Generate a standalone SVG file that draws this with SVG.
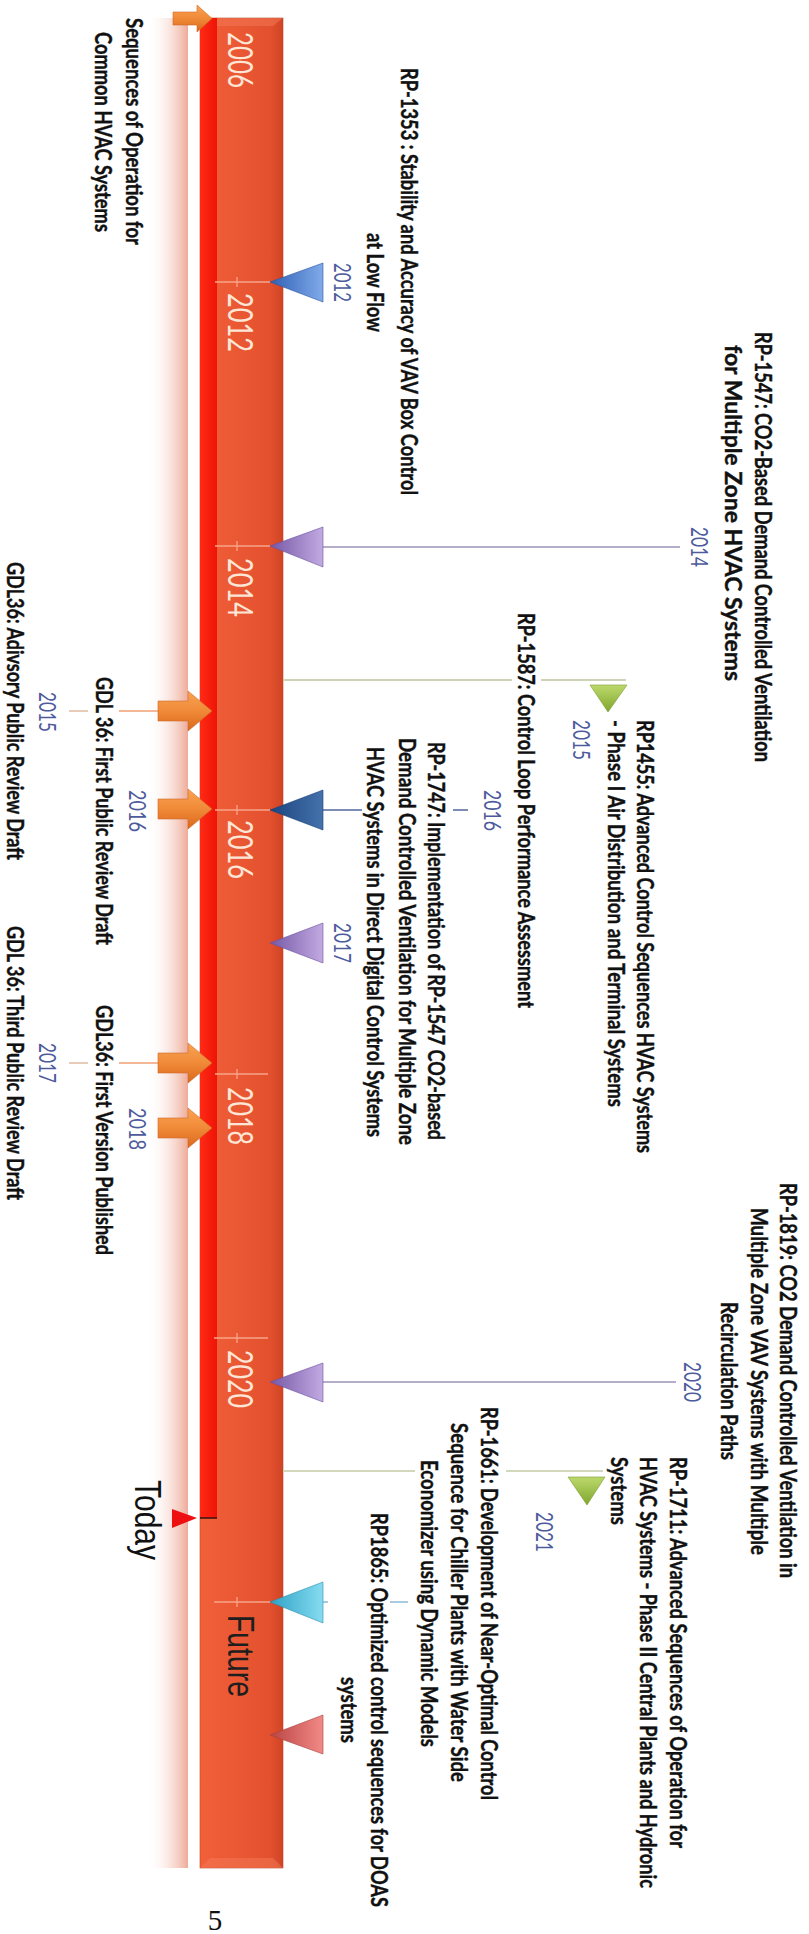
<svg xmlns="http://www.w3.org/2000/svg" width="809" height="1934" viewBox="0 0 809 1934">
<defs>
<style>
.lb{font-family:Lato,"Liberation Sans",sans-serif;font-weight:700;font-size:16px;fill:#111;stroke:#111;stroke-width:0.3}
.yr{font-family:Lato,"Liberation Sans",sans-serif;font-size:25px;fill:#fde6d6}
.sy{font-family:Lato,"Liberation Sans",sans-serif;font-size:16px;fill:#4d5a9c}
.big{font-family:"Liberation Sans",Arial,sans-serif;font-size:27px}
.tick{stroke:#f7a58a;stroke-width:1.3;fill:none}
.c{fill:none;stroke-width:2}
</style>
<linearGradient id="gBar" x1="0" y1="0" x2="1" y2="0">
<stop offset="0" stop-color="#f2603a"/><stop offset="0.85" stop-color="#e2502e"/><stop offset="1" stop-color="#cf4425"/>
</linearGradient>
<linearGradient id="gRed" x1="0" y1="0" x2="1" y2="0">
<stop offset="0" stop-color="#ff2a15"/><stop offset="1" stop-color="#ee1408"/>
</linearGradient>
<linearGradient id="gPink" x1="0" y1="0" x2="1" y2="0">
<stop offset="0" stop-color="#ffffff" stop-opacity="0"/><stop offset="1" stop-color="#eeab98"/>
</linearGradient>
<linearGradient id="gArr" x1="0" y1="0" x2="0" y2="1">
<stop offset="0" stop-color="#f9a452"/><stop offset="0.5" stop-color="#f08a38"/><stop offset="1" stop-color="#d9681c"/>
</linearGradient>
<linearGradient id="gBlue" x1="0" y1="0" x2="1" y2="0"><stop offset="0" stop-color="#2f60b4"/><stop offset="1" stop-color="#80aaea"/></linearGradient>
<linearGradient id="gPur" x1="0" y1="0" x2="1" y2="0"><stop offset="0" stop-color="#7658a6"/><stop offset="1" stop-color="#c2aae2"/></linearGradient>
<linearGradient id="gDb" x1="0" y1="0" x2="1" y2="0"><stop offset="0" stop-color="#1b4580"/><stop offset="1" stop-color="#4572ac"/></linearGradient>
<linearGradient id="gCy" x1="0" y1="0" x2="1" y2="0"><stop offset="0" stop-color="#2fa2c6"/><stop offset="1" stop-color="#86dcf0"/></linearGradient>
<linearGradient id="gSal" x1="0" y1="0" x2="1" y2="0"><stop offset="0" stop-color="#b94444"/><stop offset="1" stop-color="#f28a86"/></linearGradient>
<linearGradient id="gGr" x1="0" y1="0" x2="0" y2="1"><stop offset="0" stop-color="#bcd96c"/><stop offset="1" stop-color="#7fa62c"/></linearGradient>
</defs>
<rect width="809" height="1934" fill="#ffffff"/>

<g id="timeline">
<rect x="147" y="18" width="41" height="1850" fill="url(#gPink)"/>
<rect x="200" y="18" width="83" height="1850" fill="url(#gBar)" stroke="#b8482c" stroke-width="0.6"/>
<polygon points="200,18 283,18 273,26 210,26" fill="#f47a58" opacity="0.5"/>
<polygon points="200,1868 283,1868 273,1858 210,1858" fill="#f47a58" opacity="0.5"/>
<rect x="200" y="18" width="17" height="1500" fill="url(#gRed)"/>
<line x1="200" y1="1518" x2="217" y2="1518" stroke="#3a1010" stroke-width="1.5"/>
<g class="tick">
<line x1="215" y1="282" x2="270" y2="282"/><line x1="237" y1="277" x2="237" y2="287"/>
<line x1="215" y1="546" x2="270" y2="546"/><line x1="237" y1="541" x2="237" y2="551"/>
<line x1="215" y1="810" x2="270" y2="810"/><line x1="237" y1="805" x2="237" y2="815"/>
<line x1="215" y1="1074" x2="268" y2="1074"/><line x1="237" y1="1069" x2="237" y2="1079"/>
<line x1="214" y1="1338" x2="268" y2="1338"/><line x1="237" y1="1333" x2="237" y2="1343"/>
<line x1="214" y1="1602" x2="270" y2="1602"/><line x1="237" y1="1597" x2="237" y2="1607"/>
</g>
<text class="yr" transform="translate(228,32) rotate(90) scale(1,1.4)" textLength="56" lengthAdjust="spacingAndGlyphs">2006</text>
<text class="yr" transform="translate(228,293) rotate(90) scale(1,1.4)" textLength="59" lengthAdjust="spacingAndGlyphs">2012</text>
<text class="yr" transform="translate(228,558) rotate(90) scale(1,1.4)" textLength="59" lengthAdjust="spacingAndGlyphs">2014</text>
<text class="yr" transform="translate(228,820) rotate(90) scale(1,1.4)" textLength="59" lengthAdjust="spacingAndGlyphs">2016</text>
<text class="yr" transform="translate(228,1087) rotate(90) scale(1,1.4)" textLength="58" lengthAdjust="spacingAndGlyphs">2018</text>
<text class="yr" transform="translate(228,1350) rotate(90) scale(1,1.4)" textLength="58" lengthAdjust="spacingAndGlyphs">2020</text>
<text class="big" fill="#1e1e1e" transform="translate(228,1615) rotate(90) scale(1,1.4)" textLength="82" lengthAdjust="spacingAndGlyphs">Future</text>
</g>

<g id="today">
<polygon points="172,1509 197,1518 172,1528" fill="#ee1010"/>
<text class="big" fill="#111" transform="translate(135,1480) rotate(90) scale(1,1.4)" textLength="80" lengthAdjust="spacingAndGlyphs">Today</text>
</g>

<g id="connectors" class="c">
<line x1="323" y1="547" x2="680" y2="547" stroke="#b5aecb"/>
<line x1="283" y1="680" x2="512" y2="680" stroke="#cbd5b6"/>
<line x1="541" y1="680" x2="626" y2="680" stroke="#cbd5b6"/>
<line x1="323" y1="810" x2="362" y2="810" stroke="#7d8cb5"/>
<line x1="453" y1="810" x2="468" y2="810" stroke="#7d8cb5"/>
<line x1="323" y1="1382" x2="676" y2="1382" stroke="#b5aecb"/>
<line x1="283" y1="1471" x2="415" y2="1471" stroke="#d2d8bc"/>
<line x1="506" y1="1471" x2="603" y2="1471" stroke="#d2d8bc"/>
<line x1="323" y1="1602" x2="328" y2="1602" stroke="#a8cbe0"/>
<line x1="390" y1="1602" x2="408" y2="1602" stroke="#a8cbe0"/>
<line x1="119" y1="711" x2="158" y2="711" stroke="#f5b896"/>
<line x1="69" y1="711" x2="88" y2="711" stroke="#e8cbb8"/>
<line x1="119" y1="1063" x2="158" y2="1063" stroke="#f5b896"/>
<line x1="69" y1="1063" x2="88" y2="1063" stroke="#e8cbb8"/>
</g>

<g id="n2006">
<polygon points="173,12 197,12 197,5 212,18.5 197,32 197,25 173,25" fill="url(#gArr)" stroke="#d06a28" stroke-width="0.6"/>
<text class="lb" transform="translate(126,18) rotate(90) scale(1,1.4)" textLength="227" lengthAdjust="spacingAndGlyphs">Sequences of Operation for</text>
<text class="lb" transform="translate(95,32) rotate(90) scale(1,1.4)" textLength="200" lengthAdjust="spacingAndGlyphs">Common HVAC Systems</text>
</g>

<g id="n2012">
<polygon points="270,282 323,263 323,302" fill="url(#gBlue)" stroke="#2a55a0" stroke-width="0.6"/>
<text class="sy" transform="translate(334,263) rotate(90) scale(1,1.4)" textLength="39" lengthAdjust="spacingAndGlyphs">2012</text>
<text class="lb" transform="translate(401,68) rotate(90) scale(1,1.4)" textLength="427" lengthAdjust="spacingAndGlyphs">RP-1353 : Stability and Accuracy of VAV Box Control</text>
<text class="lb" transform="translate(367,233) rotate(90) scale(1,1.4)" textLength="99" lengthAdjust="spacingAndGlyphs">at Low Flow</text>
</g>

<g id="n2014">
<polygon points="270,546 323,527 323,567" fill="url(#gPur)" stroke="#6a50a0" stroke-width="0.6"/>
<text class="sy" transform="translate(691,527) rotate(90) scale(1,1.4)" textLength="40" lengthAdjust="spacingAndGlyphs">2014</text>
<text class="lb" transform="translate(755,332) rotate(90) scale(1,1.4)" textLength="430" lengthAdjust="spacingAndGlyphs">RP-1547: CO2-Based Demand Controlled Ventilation</text>
<text class="lb" transform="translate(725,345) rotate(90) scale(1,1.4)" textLength="336" lengthAdjust="spacingAndGlyphs">for Multiple Zone HVAC Systems</text>
</g>

<g id="n1587">
<text class="lb" transform="translate(518,613) rotate(90) scale(1,1.4)" textLength="395" lengthAdjust="spacingAndGlyphs">RP-1587: Control Loop Performance Assessment</text>
</g>

<g id="n1455">
<polygon points="590,685 627,685 608,712" fill="url(#gGr)" stroke="#7a9c30" stroke-width="0.6"/>
<text class="sy" transform="translate(573,720) rotate(90) scale(1,1.4)" textLength="40" lengthAdjust="spacingAndGlyphs">2015</text>
<text class="lb" transform="translate(637,720) rotate(90) scale(1,1.4)" textLength="433" lengthAdjust="spacingAndGlyphs">RP1455: Advanced Control Sequences HVAC Systems</text>
<text class="lb" transform="translate(608,720) rotate(90) scale(1,1.4)" textLength="387" lengthAdjust="spacingAndGlyphs">- Phase I Air Distribution and Terminal Systems</text>
</g>

<g id="n1747">
<polygon points="270,810 323,790 323,830" fill="url(#gDb)" stroke="#183e72" stroke-width="0.6"/>
<text class="sy" transform="translate(484,790) rotate(90) scale(1,1.4)" textLength="41" lengthAdjust="spacingAndGlyphs">2016</text>
<text class="lb" transform="translate(428,742) rotate(90) scale(1,1.4)" textLength="398" lengthAdjust="spacingAndGlyphs">RP-1747: Implementation of RP-1547 CO2-based</text>
<text class="lb" transform="translate(399,738) rotate(90) scale(1,1.4)" textLength="407" lengthAdjust="spacingAndGlyphs">Demand Controlled Ventilation for Multiple Zone</text>
<text class="lb" transform="translate(367,747) rotate(90) scale(1,1.4)" textLength="390" lengthAdjust="spacingAndGlyphs">HVAC Systems in Direct Digital Control Systems</text>
</g>

<g id="n2017p">
<polygon points="270,943 323,923 323,963" fill="url(#gPur)" stroke="#6a50a0" stroke-width="0.6"/>
<text class="sy" transform="translate(334,923) rotate(90) scale(1,1.4)" textLength="40" lengthAdjust="spacingAndGlyphs">2017</text>
</g>

<g id="g2015">
<polygon points="158,701 188,701 188,691 212,711 188,731 188,721 158,721" fill="url(#gArr)" stroke="#d06a28" stroke-width="0.6"/>
<text class="sy" transform="translate(39,692) rotate(90) scale(1,1.4)" textLength="40" lengthAdjust="spacingAndGlyphs">2015</text>
<text class="lb" transform="translate(7,562) rotate(90) scale(1,1.4)" textLength="298" lengthAdjust="spacingAndGlyphs">GDL36: Adivsory Public Review Draft</text>
</g>

<g id="g2016">
<polygon points="158,799 188,799 188,789 212,809 188,829 188,819 158,819" fill="url(#gArr)" stroke="#d06a28" stroke-width="0.6"/>
<text class="sy" transform="translate(129,790) rotate(90) scale(1,1.4)" textLength="42" lengthAdjust="spacingAndGlyphs">2016</text>
<text class="lb" transform="translate(96,677) rotate(90) scale(1,1.4)" textLength="268" lengthAdjust="spacingAndGlyphs">GDL 36: First Public Review Draft</text>
</g>

<g id="g2017">
<polygon points="158,1053 188,1053 188,1043 212,1063 188,1083 188,1073 158,1073" fill="url(#gArr)" stroke="#d06a28" stroke-width="0.6"/>
<text class="sy" transform="translate(39,1043) rotate(90) scale(1,1.4)" textLength="40" lengthAdjust="spacingAndGlyphs">2017</text>
<text class="lb" transform="translate(7,926) rotate(90) scale(1,1.4)" textLength="274" lengthAdjust="spacingAndGlyphs">GDL 36: Third Public Review Draft</text>
</g>

<g id="g2018">
<polygon points="158,1118 188,1118 188,1108 212,1128 188,1148 188,1138 158,1138" fill="url(#gArr)" stroke="#d06a28" stroke-width="0.6"/>
<text class="sy" transform="translate(129,1108) rotate(90) scale(1,1.4)" textLength="42" lengthAdjust="spacingAndGlyphs">2018</text>
<text class="lb" transform="translate(96,1005) rotate(90) scale(1,1.4)" textLength="250" lengthAdjust="spacingAndGlyphs">GDL36: First Version Published</text>
</g>

<g id="n1819">
<polygon points="270,1382 323,1363 323,1402" fill="url(#gPur)" stroke="#6a50a0" stroke-width="0.6"/>
<text class="sy" transform="translate(684,1362) rotate(90) scale(1,1.4)" textLength="40" lengthAdjust="spacingAndGlyphs">2020</text>
<text class="lb" transform="translate(780,1183) rotate(90) scale(1,1.4)" textLength="395" lengthAdjust="spacingAndGlyphs">RP-1819: CO2 Demand Controlled Ventilation in</text>
<text class="lb" transform="translate(751,1208) rotate(90) scale(1,1.4)" textLength="347" lengthAdjust="spacingAndGlyphs">Multiple Zone VAV Systems with Multiple</text>
<text class="lb" transform="translate(721,1302) rotate(90) scale(1,1.4)" textLength="158" lengthAdjust="spacingAndGlyphs">Recirculation Paths</text>
</g>

<g id="n1711">
<polygon points="568,1477 605,1477 587,1505" fill="url(#gGr)" stroke="#7a9c30" stroke-width="0.6"/>
<text class="sy" transform="translate(536,1512) rotate(90) scale(1,1.4)" textLength="40" lengthAdjust="spacingAndGlyphs">2021</text>
<text class="lb" transform="translate(670,1457) rotate(90) scale(1,1.4)" textLength="391" lengthAdjust="spacingAndGlyphs">RP-1711: Advanced Sequences of Operation for</text>
<text class="lb" transform="translate(640,1457) rotate(90) scale(1,1.4)" textLength="431" lengthAdjust="spacingAndGlyphs">HVAC Systems - Phase II Central Plants and Hydronic</text>
<text class="lb" transform="translate(611,1457) rotate(90) scale(1,1.4)" textLength="68" lengthAdjust="spacingAndGlyphs">Systems</text>
</g>

<g id="n1661">
<text class="lb" transform="translate(481,1407) rotate(90) scale(1,1.4)" textLength="393" lengthAdjust="spacingAndGlyphs">RP-1661: Development of Near-Optimal Control</text>
<text class="lb" transform="translate(451,1423) rotate(90) scale(1,1.4)" textLength="359" lengthAdjust="spacingAndGlyphs">Sequence for Chiller Plants with Water Side</text>
<text class="lb" transform="translate(421,1460) rotate(90) scale(1,1.4)" textLength="287" lengthAdjust="spacingAndGlyphs">Economizer using Dynamic Models</text>
</g>

<g id="n1865">
<polygon points="270,1602 323,1582 323,1623" fill="url(#gCy)" stroke="#2a8fb0" stroke-width="0.6"/>
<text class="lb" transform="translate(371,1513) rotate(90) scale(1,1.4)" textLength="394" lengthAdjust="spacingAndGlyphs">RP1865: Optimized control sequences for DOAS</text>
<text class="lb" transform="translate(341,1677) rotate(90) scale(1,1.4)" textLength="66" lengthAdjust="spacingAndGlyphs">systems</text>
</g>

<g id="nFuture">
<polygon points="270,1735 323,1715 323,1754" fill="url(#gSal)" stroke="#a84040" stroke-width="0.6"/>
</g>

<text x="215" y="1930" font-family="Liberation Serif,serif" font-size="29" text-anchor="middle" fill="#111">5</text>
</svg>
